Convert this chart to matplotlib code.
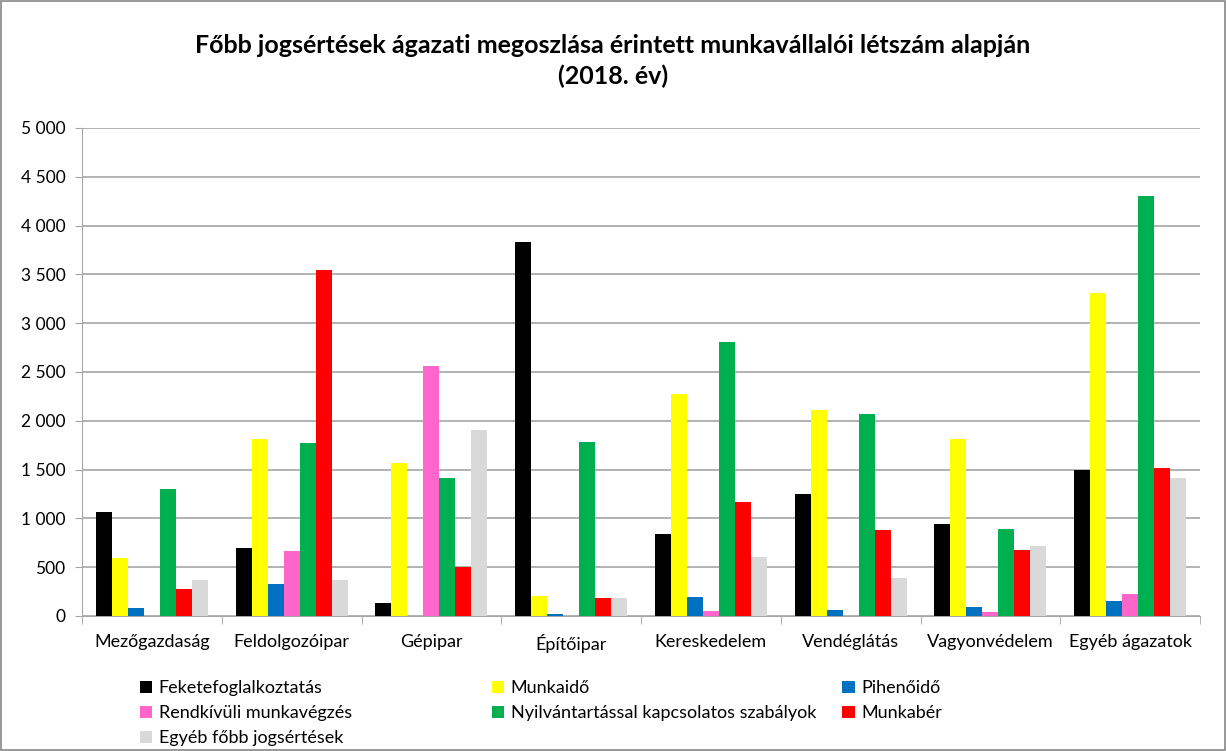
import matplotlib.pyplot as plt
import numpy as np
from matplotlib.patches import Rectangle
from matplotlib.ticker import FuncFormatter

plt.rcParams['font.family'] = ['Lato', 'DejaVu Sans']

# Ágazatok
agazatok = ['Mezőgazdaság', 'Feldolgozóipar', 'Gépipar', 'Építőipar',
            'Kereskedelem', 'Vendéglátás', 'Vagyonvédelem', 'Egyéb ágazatok']

# Jogsértés típusok (sorozatok)
sorozatok = ['Feketefoglalkoztatás', 'Munkaidő', 'Pihenőidő',
             'Rendkívüli munkavégzés', 'Nyilvántartással kapcsolatos szabályok',
             'Munkabér', 'Egyéb főbb jogsértések']
szinek = ['#000000', '#FFFF00', '#0070C0', '#FF66CC', '#00B050', '#FF0000', '#D9D9D9']

feketefoglalkoztatas = [1070, 700, 130, 3830, 835, 1250, 940, 1500]
munkaido = [590, 1810, 1570, 205, 2270, 2110, 1810, 3305]
pihenoido = [85, 330, 0, 20, 190, 65, 90, 155]
rendkivuli = [0, 670, 2560, 0, 50, 0, 40, 230]
nyilvantartas = [1300, 1775, 1415, 1780, 2810, 2065, 895, 4300]
munkaber = [280, 3540, 500, 185, 1170, 880, 675, 1520]
egyeb = [365, 365, 1910, 185, 605, 385, 720, 1410]

adatok = [feketefoglalkoztatas, munkaido, pihenoido, rendkivuli,
          nyilvantartas, munkaber, egyeb]

fig = plt.figure(figsize=(12.26, 7.51), dpi=100)
ax = fig.add_axes([0.0669, 0.1798, 0.9119, 0.6498])

x = np.arange(len(agazatok))
w = 0.8 / len(sorozatok)
sajat = []
for i, (nev, ertek, szin) in enumerate(zip(sorozatok, adatok, szinek)):
    b = ax.bar(x - 0.4 + w * (i + 0.5), ertek, width=w, color=szin, label=nev, zorder=3)
    sajat.append(b)

ax.set_xlim(-0.5, len(agazatok) - 0.5)
ax.set_ylim(0, 5000)
ax.set_yticks(np.arange(0, 5001, 500))
ax.yaxis.set_major_formatter(FuncFormatter(lambda v, p: f'{int(v):,}'.replace(',', ' ')))
ax.grid(axis='y', color='#A6A6A6', linewidth=1.2, zorder=0)
ax.set_xticks(x)
ax.set_xticklabels(agazatok)
ax.set_xticks(np.arange(-0.5, len(agazatok)), minor=True)
ax.tick_params(axis='x', which='major', length=0, labelsize=13, pad=13)
ax.tick_params(axis='x', which='minor', length=6, color='#A6A6A6')
ax.tick_params(axis='y', length=5, color='#A6A6A6', labelsize=12.5, pad=7)
for s in ['top', 'right']:
    ax.spines[s].set_visible(False)
ax.spines['left'].set_color('#A6A6A6')
ax.spines['bottom'].set_color('#A6A6A6')

fig.text(0.5, 0.94, 'Főbb jogsértések ágazati megoszlása érintett munkavállalói létszám alapján',
         ha='center', va='center', fontsize=18, fontweight='bold')
fig.text(0.5, 0.899, '(2018. év)', ha='center', va='center', fontsize=18, fontweight='bold')

# jelmagyarázat három oszlopban
oszlopok = [[0, 3, 6], [1, 4], [2, 5]]
xpos = [0.114, 0.401, 0.687]
for col, xp in zip(oszlopok, xpos):
    fig.legend([sajat[i] for i in col], [sorozatok[i] for i in col],
               loc='upper left', bbox_to_anchor=(xp, 0.094), frameon=False,
               fontsize=13, handlelength=0.7, handleheight=0.7, handletextpad=0.35,
               labelspacing=0.5, borderaxespad=0, borderpad=0)

fig.patches.append(Rectangle((0.001, 0.001), 0.998, 0.998, transform=fig.transFigure,
                             fill=False, edgecolor='#868686', linewidth=1.2))

plt.savefig('out.png', dpi=100)
